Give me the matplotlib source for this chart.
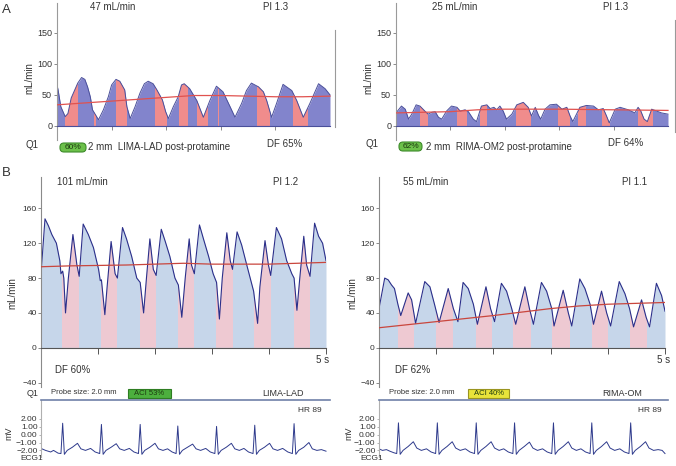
import numpy as np
import matplotlib
matplotlib.use("Agg")
import matplotlib.pyplot as plt
from matplotlib.patches import FancyBboxPatch

plt.rcParams['font.family'] = ['Liberation Sans', 'DejaVu Sans']

# ---- panel A, left: LIMA-LAD post-protamine (t in s, flow in mL/min)
a1_t = [0.00, 0.02, 0.07, 0.15, 0.20, 0.26, 0.30, 0.38, 0.45, 0.51, 0.56, 0.61, 0.65, 0.76,
        0.85, 0.94, 1.00, 1.08, 1.15, 1.24, 1.28, 1.34, 1.43, 1.52, 1.60, 1.67, 1.76, 1.83,
        1.93, 1.99, 2.04, 2.13, 2.22, 2.28, 2.33, 2.43, 2.56, 2.68, 2.80, 2.92, 3.04, 3.17,
        3.26, 3.38, 3.47, 3.56, 3.69, 3.78, 3.84, 3.93, 4.02, 4.14, 4.30, 4.39, 4.51, 4.63,
        4.79, 4.91, 5.00]
a1_q = [66, 58, 31, 15, 20, 45, 53, 69, 78, 75, 63, 47, 26, 10,
        26, 47, 66, 75, 72, 58, 31, 12, 31, 53, 68, 72, 68, 58,
        42, 23, 12, 31, 47, 66, 68, 60, 41, 14, 41, 64, 55, 31,
        14, 36, 57, 69, 63, 55, 41, 14, 36, 67, 57, 41, 14, 36,
        68, 60, 50]
a1_bands = [(0.15, 0.39), (0.68, 0.71), (1.08, 1.29), (1.79, 2.02), (2.24, 2.40),
            (2.56, 2.77), (2.94, 2.96), (3.66, 3.90), (4.33, 4.60)]
a1_mean_t = [0.0, 1.0, 2.0, 2.5, 3.0, 3.5, 4.0, 4.5, 5.0]
a1_mean_q = [34, 40, 46, 49, 49, 48, 47, 47, 48]

# ---- panel A, right: RIMA-OM2 post-protamine
a2_t = [0.00, 0.01, 0.10, 0.17, 0.23, 0.29, 0.37, 0.44, 0.53, 0.59, 0.66, 0.72, 0.78, 0.84,
        0.93, 1.02, 1.12, 1.18, 1.27, 1.33, 1.42, 1.48, 1.57, 1.67, 1.73, 1.80, 1.85, 1.91,
        1.97, 2.03, 2.13, 2.22, 2.34, 2.43, 2.49, 2.56, 2.62, 2.66, 2.74, 2.83, 2.95, 3.05,
        3.14, 3.20, 3.25, 3.38, 3.50, 3.63, 3.72, 3.81, 3.87, 3.92, 4.03, 4.12, 4.27, 4.39,
        4.45, 4.50, 4.56, 4.62, 4.70, 4.79, 4.88, 5.00]
a2_q = [20, 22, 32, 27, 11, 19, 34, 32, 24, 19, 22, 23, 14, 11,
        24, 32, 30, 24, 26, 23, 11, 7, 32, 34, 28, 30, 26, 32,
        24, 11, 19, 34, 38, 30, 16, 30, 17, 11, 27, 34, 35, 27,
        30, 16, 7, 30, 33, 32, 26, 28, 16, 5, 27, 30, 26, 21,
        30, 24, 11, 7, 27, 24, 21, 19]
a2_bands = [(0.44, 0.58), (1.12, 1.30), (1.54, 1.68), (2.21, 2.49), (2.97, 3.20),
            (3.35, 3.50), (3.78, 3.93), (4.45, 4.73)]
a2_mean_t = [0.0, 1.0, 1.5, 2.0, 3.0, 4.0, 5.0]
a2_mean_q = [21, 23, 26, 27, 27, 26, 25]

# ---- panel B, left: LIMA-LAD
b1_t = [0.00, 0.07, 0.13, 0.19, 0.27, 0.33, 0.35, 0.38, 0.40, 0.43, 0.48, 0.56, 0.63, 0.67,
        0.74, 0.83, 0.92, 1.01, 1.04, 1.06, 1.12, 1.16, 1.23, 1.30, 1.34, 1.43, 1.50, 1.59,
        1.68, 1.74, 1.80, 1.85, 1.91, 1.97, 2.02, 2.11, 2.18, 2.26, 2.35, 2.41, 2.47, 2.53,
        2.60, 2.64, 2.69, 2.78, 2.85, 2.94, 3.02, 3.08, 3.13, 3.18, 3.26, 3.32, 3.36, 3.44,
        3.52, 3.61, 3.73, 3.80, 3.84, 3.93, 3.99, 4.03, 4.13, 4.22, 4.31, 4.40, 4.44, 4.49,
        4.54, 4.61, 4.66, 4.72, 4.80, 4.87, 4.94, 5.00]
b1_q = [85, 148, 140, 130, 120, 100, 85, 88, 80, 40, 80, 130, 95, 82,
        142, 130, 115, 90, 77, 78, 38, 70, 122, 85, 80, 138, 125, 105,
        80, 75, 40, 80, 125, 90, 83, 136, 122, 105, 80, 72, 35, 80,
        125, 95, 85, 141, 125, 105, 85, 75, 33, 80, 132, 100, 90, 133,
        118, 95, 65, 28, 70, 123, 95, 83, 138, 125, 100, 85, 80, 43,
        80, 128, 95, 82, 143, 128, 120, 100]
b1_bands = [(0.37, 0.67), (1.05, 1.34), (1.74, 2.02), (2.40, 2.69), (3.07, 3.36),
            (3.74, 4.03), (4.43, 4.72)]
b1_mean_t = [0.0, 0.5, 1.5, 2.5, 3.0, 3.5, 4.0, 5.0]
b1_mean_q = [93, 94, 95, 97, 96, 96, 96, 98]

# ---- panel B, right: RIMA-OM
b2_t = [0.00, 0.10, 0.16, 0.22, 0.27, 0.33, 0.38, 0.51, 0.57, 0.64, 0.80, 0.89, 0.97, 1.05,
        1.21, 1.30, 1.38, 1.47, 1.56, 1.65, 1.72, 1.87, 1.95, 2.02, 2.14, 2.23, 2.32, 2.39,
        2.55, 2.63, 2.70, 2.84, 2.93, 3.02, 3.06, 3.22, 3.31, 3.37, 3.51, 3.60, 3.69, 3.75,
        3.89, 3.98, 4.05, 4.20, 4.30, 4.38, 4.45, 4.59, 4.67, 4.73, 4.85, 4.94, 5.00]
b2_q = [45, 80, 78, 72, 68, 50, 37, 63, 55, 28, 76, 70, 50, 29,
        68, 45, 30, 75, 68, 50, 27, 70, 45, 30, 74, 65, 45, 27,
        70, 45, 27, 75, 65, 45, 25, 66, 40, 25, 79, 68, 50, 27,
        65, 40, 25, 76, 62, 45, 24, 55, 35, 24, 74, 60, 42]
b2_bands = [(0.33, 0.62), (1.00, 1.30), (1.69, 1.98), (2.35, 2.65), (3.03, 3.34),
            (3.72, 4.01), (4.39, 4.68)]
b2_mean_t = [0.0, 1.0, 2.0, 3.0, 3.5, 4.0, 5.0]
b2_mean_q = [23, 30, 37, 45, 48, 50, 52]

# ---- ECG traces (mV)
ecg1_t = [0.00, 0.08, 0.17, 0.22, 0.30, 0.35,
          0.38, 0.41, 0.46, 0.55, 0.64, 0.70, 0.78, 0.87, 0.95, 1.03,
          1.06, 1.09, 1.14, 1.23, 1.32, 1.38, 1.46, 1.55, 1.63, 1.71,
          1.74, 1.77, 1.82, 1.91, 2.00, 2.06, 2.14, 2.22, 2.30, 2.37,
          2.40, 2.43, 2.48, 2.57, 2.66, 2.72, 2.80, 2.89, 2.97, 3.05,
          3.08, 3.11, 3.16, 3.25, 3.34, 3.40, 3.48, 3.56, 3.64, 3.72,
          3.75, 3.78, 3.83, 3.92, 4.01, 4.07, 4.15, 4.24, 4.33, 4.41,
          4.44, 4.47, 4.52, 4.61, 4.70, 4.76, 4.84, 4.92, 5.00]
ecg1_mv = [-1.75, -2.0, -2.2, -2.0, -2.35, -2.4,
           1.45, -2.5, -2.0, -1.6, -1.1, -1.8, -2.0, -1.75, -2.2, -2.4,
           1.3, -2.5, -2.0, -1.6, -1.15, -1.8, -2.0, -1.75, -2.2, -2.4,
           1.3, -2.5, -2.0, -1.6, -1.1, -1.8, -2.0, -1.8, -2.2, -2.4,
           1.1, -2.5, -2.0, -1.6, -1.2, -1.8, -2.0, -1.75, -2.2, -2.4,
           1.05, -2.5, -2.0, -1.6, -1.1, -1.8, -2.0, -1.75, -2.2, -2.4,
           1.2, -2.5, -2.0, -1.6, -1.1, -1.8, -2.0, -1.75, -2.2, -2.4,
           1.4, -2.5, -2.0, -1.6, -1.0, -1.8, -2.0, -1.9, -2.1]
ecg2_t = [0.00, 0.06, 0.13, 0.19, 0.26, 0.31,
          0.34, 0.37, 0.42, 0.51, 0.60, 0.66, 0.74, 0.83, 0.91, 0.99,
          1.02, 1.05, 1.10, 1.19, 1.28, 1.34, 1.42, 1.51, 1.59, 1.67,
          1.70, 1.73, 1.78, 1.87, 1.96, 2.02, 2.10, 2.18, 2.26, 2.34,
          2.37, 2.40, 2.45, 2.54, 2.63, 2.69, 2.77, 2.86, 2.94, 3.02,
          3.05, 3.08, 3.13, 3.22, 3.31, 3.37, 3.45, 3.53, 3.61, 3.69,
          3.72, 3.75, 3.80, 3.89, 3.98, 4.04, 4.12, 4.21, 4.29, 4.37,
          4.40, 4.43, 4.48, 4.57, 4.66, 4.72, 4.80, 4.88, 4.95, 5.00]
ecg2_mv = [-1.8, -2.0, -1.9, -2.1, -2.3, -2.4,
           1.5, -2.5, -2.0, -1.5, -0.9, -1.7, -2.0, -1.8, -2.2, -2.4,
           1.5, -2.5, -2.0, -1.5, -0.9, -1.7, -2.0, -1.8, -2.2, -2.4,
           1.5, -2.5, -2.0, -1.5, -0.9, -1.7, -2.0, -1.8, -2.2, -2.4,
           1.5, -2.5, -2.0, -1.5, -0.95, -1.7, -2.0, -1.8, -2.2, -2.4,
           1.5, -2.5, -2.0, -1.5, -0.9, -1.7, -2.0, -1.8, -2.2, -2.4,
           1.5, -2.5, -2.0, -1.5, -0.9, -1.7, -2.0, -1.8, -2.2, -2.4,
           1.5, -2.5, -2.0, -1.5, -0.9, -1.7, -2.0, -1.9, -2.0, -2.4]

ecg_ticks = [2, 1, 0, -1, -2]
ecg_labels = ['2.00', '1.00', '0.00', '\u22121.00', '\u22122.00']

W, H = 676, 466
TXT = '#333333'
fig = plt.figure(figsize=(W / 100, H / 100), dpi=100)


def add_ax(l, t, r, b):
    return fig.add_axes([l / W, 1 - b / H, (r - l) / W, (b - t) / H])


def ftext(x, y, s, size=7, **kw):
    kw.setdefault('va', 'center')
    kw.setdefault('color', TXT)
    fig.text(x / W, 1 - y / H, s, fontsize=size, **kw)


def badge(x0, y0, x1, y1, s, fc, ec, size, rounded):
    style = 'round,pad=0,rounding_size=0.04' if rounded else 'square,pad=0'
    p = FancyBboxPatch((x0 / 100, (H - y1) / 100), (x1 - x0) / 100, (y1 - y0) / 100,
                       boxstyle=style, transform=fig.dpi_scale_trans,
                       fc=fc, ec=ec, lw=0.8)
    fig.add_artist(p)
    ftext((x0 + x1) / 2, (y0 + y1) / 2 + 0.3, s, size=size, ha='center', color='#1d3a10')


def flow(ax, t, q, bands, mt, mq, base, pink, line, mean, lw):
    poly = ax.fill_between(t, 0, q, color=base, lw=0, zorder=1)
    clip = poly.get_paths()[0]
    for a, b in bands:
        sp = ax.axvspan(a, b, color=pink, lw=0, zorder=1.5)
        sp.set_clip_path(clip, ax.transData)
    ax.plot(t, q, color=line, lw=lw, zorder=2)
    ax.plot(mt, mq, color=mean, lw=0.9, zorder=3)


# ---------------- panel A ----------------
for (l, r, t, q, bands, mt, mq, rb) in [
        (57, 335, a1_t, a1_q, a1_bands, a1_mean_t, a1_mean_q, (-1, 155)),
        (396, 675, a2_t, a2_q, a2_bands, a2_mean_t, a2_mean_q, (-9, 171))]:
    ax = add_ax(l, 3, r, 139.6)
    pps = 54.6 if l == 57 else 54.4
    ax.set_xlim(0, (r - l) / pps)
    ax.set_ylim(-22, 198)
    flow(ax, t, q, bands, mt, mq, '#8284cc', '#f08c8c', '#4a4f9a', '#e0524f', 0.7)
    for s in ['top']:
        ax.spines[s].set_visible(False)
    ax.spines['left'].set_color('#9a9a9a')
    ax.spines['right'].set_color('#9a9a9a')
    ax.spines['right'].set_bounds(*rb)
    ax.spines['bottom'].set_position(('data', 0))
    ax.spines['bottom'].set_bounds(0, 5)
    ax.spines['bottom'].set_color('#4a4f9a')
    ax.spines['bottom'].set_zorder(4)
    ax.set_xticks([1, 2, 3, 4])
    ax.tick_params(axis='x', length=3, width=0.6, color='#777777', labelbottom=False)
    ax.set_yticks([0, 50, 100, 150])
    ax.tick_params(axis='y', length=2, width=0.6, pad=1.5, labelsize=6.5,
                   color='#777777', labelcolor=TXT, right=False)
    ax.patch.set_alpha(0)

ftext(2, 10, 'A', size=9.5)
ftext(90, 7, '47 mL/min')
ftext(263, 7, 'PI 1.3')
ftext(29, 78, 'mL/min', rotation=90, ha='center')
ftext(25, 145, 'Q1')
badge(60, 143, 86, 152, '60%', '#6cc04a', '#3d8b2a', 6, True)
ftext(88, 147, '2 mm  LIMA-LAD post-protamine')
ftext(267, 144, 'DF 65%')

ftext(432, 7, '25 mL/min')
ftext(603, 7, 'PI 1.3')
ftext(368, 78, 'mL/min', rotation=90, ha='center')
ftext(365, 144, 'Q1')
badge(399, 142, 422, 151, '62%', '#6cc04a', '#3d8b2a', 6, True)
ftext(426, 147, '2 mm  RIMA-OM2 post-protamine')
ftext(608, 143, 'DF 64%')

# ---------------- panel B ----------------
for (l, t, q, bands, mt, mq, ecg_t, ecg_v) in [
        (41, b1_t, b1_q, b1_bands, b1_mean_t, b1_mean_q, ecg1_t, ecg1_mv),
        (379, b2_t, b2_q, b2_bands, b2_mean_t, b2_mean_q, ecg2_t, ecg2_mv)]:
    pps = 57.0 if l == 41 else 57.2
    ax = add_ax(l, 177, l + 5 * pps, 387)
    ax.set_xlim(0, 5)
    ax.set_ylim(-45, 196)
    flow(ax, t, q, bands, mt, mq, '#c6d6ea', '#eec9d2', '#2b2f8a', '#c9463d', 0.8)
    ax.spines['top'].set_visible(False)
    ax.spines['right'].set_visible(False)
    ax.spines['left'].set_color('#8a8a8a')
    ax.spines['bottom'].set_position(('data', 0))
    ax.spines['bottom'].set_bounds(0, 5)
    ax.spines['bottom'].set_color('#555555')
    ax.set_xticks([1, 2, 3, 4, 5])
    ax.tick_params(axis='x', length=4, width=0.7, color='#555555', labelbottom=False)
    ax.set_yticks([-40, 0, 40, 80, 120, 160])
    ax.set_yticklabels(['\u221240', '0', '40', '80', '120', '160'])
    ax.tick_params(axis='y', length=2, width=0.6, pad=1, labelsize=6,
                   color='#777777', labelcolor=TXT)
    ax.patch.set_alpha(0)

    # ECG strip
    ex = add_ax(l, 400, l + 289, 456.7)
    ex.set_xlim(0, 289 / pps)
    ex.set_ylim(-2.8, 4.4)
    ex.plot(ecg_t, ecg_v, color='#2e3a8c', lw=0.7)
    ex.spines['right'].set_visible(False)
    ex.spines['bottom'].set_visible(False)
    ex.spines['top'].set_color('#7080a8')
    ex.spines['top'].set_linewidth(1.2)
    ex.spines['left'].set_color('#b0b0b0')
    ex.set_xticks([])
    ex.set_yticks(ecg_ticks)
    ex.set_yticklabels(ecg_labels)
    ex.tick_params(axis='y', length=1.5, width=0.5, pad=1, labelsize=6,
                   color='#999999', labelcolor=TXT)
    ex.patch.set_alpha(0)

ftext(2, 173, 'B', size=9.5)
ftext(57, 182, '101 mL/min')
ftext(273, 182, 'PI 1.2')
ftext(12, 293, 'mL/min', rotation=90, ha='center')
ftext(316, 360, '5 s')
ftext(55, 370, 'DF 60%')
ftext(27, 393, 'Q1', size=6.5)
ftext(51, 393, 'Probe size: 2.0 mm', size=5.5)
badge(128, 389, 171, 398, 'ACI 53%', '#4caf3e', '#2e7d22', 5.5, False)
ftext(262, 393, 'LIMA-LAD', size=6.5)
ftext(298, 411, 'HR 89', size=6)
ftext(9, 433, 'mV', rotation=90, ha='center', size=6.5)
ftext(20, 459, 'ECG1', size=6)

ftext(403, 182, '55 mL/min')
ftext(622, 182, 'PI 1.1')
ftext(352, 293, 'mL/min', rotation=90, ha='center')
ftext(657, 360, '5 s')
ftext(395, 370, 'DF 62%')
ftext(389, 393, 'Probe size: 2.0 mm', size=5.5)
badge(468, 389, 509, 398, 'ACI 40%', '#e8e43a', '#9a9420', 5.5, False)
ftext(602, 393, 'RIMA-OM', size=6.5)
ftext(638, 411, 'HR 89', size=6)
ftext(349, 433, 'mV', rotation=90, ha='center', size=6.5)
ftext(360, 459, 'ECG1', size=6)

fig.savefig('out.png', dpi=100)
